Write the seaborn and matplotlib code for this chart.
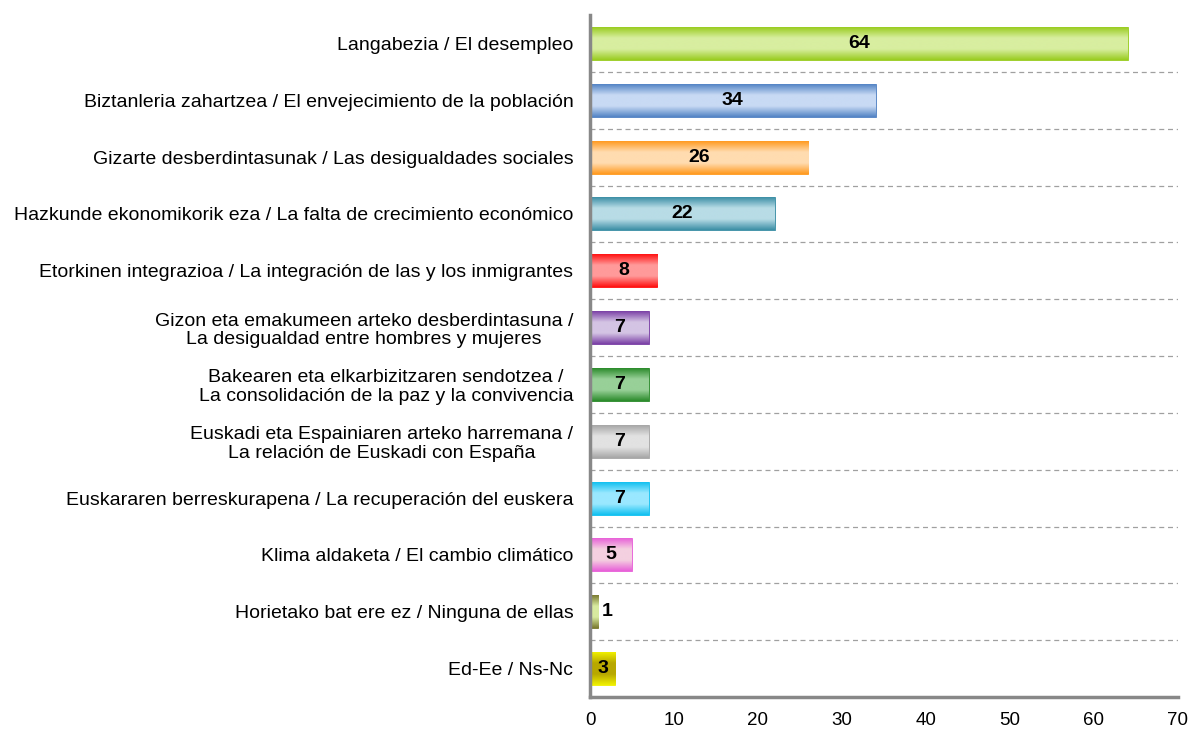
import numpy as np
import pandas as pd
import matplotlib
matplotlib.use("Agg")
import matplotlib.pyplot as plt
import seaborn as sns
from matplotlib.colors import LinearSegmentedColormap

categories = [
    "Langabezia / El desempleo",
    "Biztanleria zahartzea / El envejecimiento de la población",
    "Gizarte desberdintasunak / Las desigualdades sociales",
    "Hazkunde ekonomikorik eza / La falta de crecimiento económico",
    "Etorkinen integrazioa / La integración de las y los inmigrantes",
    "Gizon eta emakumeen arteko desberdintasuna /\nLa desigualdad entre hombres y mujeres",
    "Bakearen eta elkarbizitzaren sendotzea /\nLa consolidación de la paz y la convivencia",
    "Euskadi eta Espainiaren arteko harremana /\nLa relación de Euskadi con España",
    "Euskararen berreskurapena / La recuperación del euskera",
    "Klima aldaketa / El cambio climático",
    "Horietako bat ere ez / Ninguna de ellas",
    "Ed-Ee / Ns-Nc",
]
values = [64, 34, 26, 22, 8, 7, 7, 7, 7, 5, 1, 3]
x_ticks = [0, 10, 20, 30, 40, 50, 60, 70]

edge_colors = ["#99cc1f", "#5283c4", "#ff9a1f", "#3b8ea5", "#ff1010", "#7a3fa5",
               "#2a8a2a", "#a6a6a6", "#10c0f0", "#e860d8", "#7a7a30", "#f0f000"]
mid_colors = ["#d8eea0", "#c8daf4", "#ffdcb0", "#b8dce6", "#ff9a9a", "#d4c4e4",
              "#98d098", "#e2e2e2", "#9ae8ff", "#f4d0e0", "#d8eaa0", "#b8a800"]

df = pd.DataFrame({"cat": categories, "val": values})

sns.set_style("white")
plt.rcParams["font.family"] = ["Liberation Sans", "DejaVu Sans"]
plt.rcParams["text.color"] = "black"
plt.rcParams["xtick.color"] = "black"
plt.rcParams["ytick.color"] = "black"

fig = plt.figure(figsize=(11.9, 7.29), dpi=100)
ax = fig.add_axes([0.4958, 0.0439, 0.4941, 0.9355])

sns.barplot(data=df, x="val", y="cat", orient="h", ax=ax, width=0.58,
            palette=edge_colors, hue="cat", legend=False, saturation=1)

ax.set_xlim(0, 70)
ax.set_ylim(len(categories) - 0.5, -0.5)

# gradient fills
for patch, ec, mc in zip(ax.patches, edge_colors, mid_colors):
    x0, y0 = patch.get_x(), patch.get_y()
    w, h = patch.get_width(), patch.get_height()
    cmap = LinearSegmentedColormap.from_list("g", [ec, mc, mc, ec], N=256)
    grad = np.linspace(0, 1, 256).reshape(-1, 1)
    im = ax.imshow(grad, cmap=cmap, aspect="auto",
                   extent=[x0, x0 + w, y0 + h, y0], zorder=2,
                   interpolation="bilinear")
    im.set_clip_path(patch)
    patch.set_edgecolor(ec)
    patch.set_linewidth(0.6)

ax.set_ylim(len(categories) - 0.5, -0.5)
ax.set_xlim(0, 70)

# value labels
for i, v in enumerate(values):
    if v < 2:
        ax.text(v + 0.35, i, f"{v}", ha="left", va="center", fontsize=14,
                fontweight="bold", color="black", zorder=4)
    else:
        ax.text(v / 2, i, f"{v}", ha="center", va="center", fontsize=14,
                fontweight="bold", color="black", zorder=4)

# dashed separators
for b in np.arange(0.5, len(categories) - 1, 1.0):
    ax.axhline(b, xmin=0, xmax=1, color="#a0a0a0", linestyle=(0, (4, 3)),
               linewidth=0.9, zorder=1)

ax.set_xticks(x_ticks)
ax.set_xticklabels([str(t) for t in x_ticks], fontsize=13.5)
ax.set_yticks(range(len(categories)))
ax.set_yticklabels(categories, fontsize=14, linespacing=1.1)
ax.set_yticks(np.arange(-0.5, len(categories), 1.0), minor=True)
ax.tick_params(axis="y", which="major", length=0, pad=12)
ax.tick_params(axis="y", which="minor", length=5, width=2, color="#888888",
               direction="out")
ax.tick_params(axis="x", which="major", length=5, width=2, color="#888888",
               direction="out", pad=6)
for lbl in ax.get_yticklabels():
    lbl.set_horizontalalignment("right")
    lbl.set_multialignment("center")
ax.set_xlabel("")
ax.set_ylabel("")

for s in ["top", "right"]:
    ax.spines[s].set_visible(False)
for s in ["left", "bottom"]:
    ax.spines[s].set_color("#888888")
    ax.spines[s].set_linewidth(2.5)

fig.savefig("out.png", dpi=100)
